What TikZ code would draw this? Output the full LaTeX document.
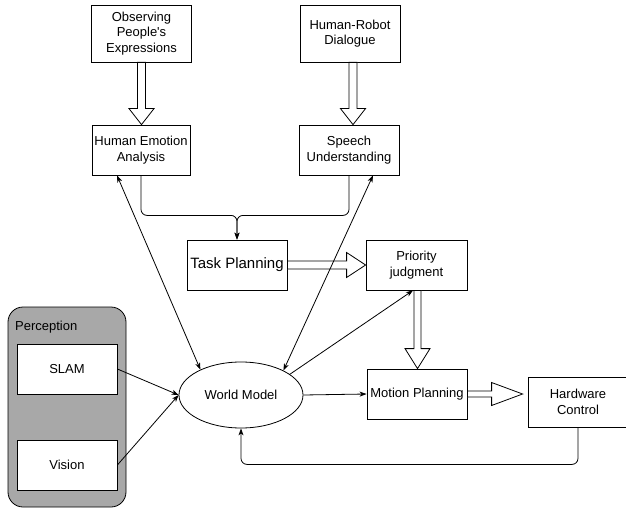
\documentclass[tikz,border=0pt]{standalone}
\usepackage{fontspec}
\setmainfont{Liberation Sans}
\usetikzlibrary{arrows.meta,shapes.geometric,calc}
\definecolor{percgray}{RGB}{168,168,168}
\tikzset{
  box/.style={draw=black, fill=white, line width=0.8pt, minimum width=100pt, minimum height=50pt, inner sep=0pt, align=center, font=\fontsize{13}{15.5}\selectfont},
  hollow/.style={draw=black, fill=white, line width=0.8pt, line join=miter},
  conn/.style={draw=black, line width=0.8pt, -{Stealth[length=7pt,width=5pt,inset=2pt]}},
  biconn/.style={draw=black, line width=0.8pt, {Stealth[length=7pt,width=5pt,inset=2pt]}-{Stealth[length=7pt,width=5pt,inset=2pt]}},
  flow/.style={conn, rounded corners=6pt},
}
\newcommand\hollowdown[5]{%
  \draw[hollow] let \p1=(#1), \p2=(#2) in
    (\x1-#3,\y1) -- (\x1-#3,\y2+#5) -- (\x1-#4,\y2+#5) -- (\x1,\y2) --
    (\x1+#4,\y2+#5) -- (\x1+#3,\y2+#5) -- (\x1+#3,\y1) -- cycle;}
\newcommand\hollowright[5]{%
  \draw[hollow] let \p1=(#1), \p2=(#2) in
    (\x1,\y1-#3) -- (\x2-#5,\y1-#3) -- (\x2-#5,\y1-#4) -- (\x2,\y1) --
    (\x2-#5,\y1+#4) -- (\x2-#5,\y1+#3) -- (\x1,\y1+#3) -- cycle;}
\begin{document}
\begin{tikzpicture}[x=1pt,y=-1pt]
\useasboundingbox (0,0) rectangle (626,508);
% perception container
\node[draw=black, fill=percgray, line width=0.8pt, rounded corners=15pt, minimum width=118pt, minimum height=200pt, inner sep=0pt] (perc) at (67,407) {};
\node[anchor=west, inner sep=0pt, font=\fontsize{13}{15.5}\selectfont] (perclabel) at (15,327) {Perception};
\node[box] (slam) at (67,369) {SLAM};
\node[box] (vision) at (67,465) {Vision};
% boxes
\node[box, minimum height=57pt] (obs) at (141.5,33.5) {Observing\\People\textquotesingle s\\Expressions};
\node[box, minimum height=57pt] (hr) at (350,33.5) {Human-Robot\\Dialogue};
\node[box, minimum width=98pt] (hea) at (141,150) {Human Emotion\\Analysis};
\node[box] (su) at (349,150) {Speech\\Understanding};
\node[box, font=\fontsize{15}{18}\selectfont] (tp) at (237,265) {Task Planning};
\node[box, minimum width=101pt] (pj) at (416.5,265) {Priority\\judgment};
\node[box] (mp) at (417,394) {Motion Planning};
\node[box] (hw) at (578,402) {Hardware\\Control};
\node[draw=black, fill=white, line width=0.8pt, ellipse, minimum width=124pt, minimum height=66pt, inner sep=0pt, font=\fontsize{13}{15.5}\selectfont] (wm) at (241,395) {World Model};
% hollow arrows
\hollowdown{obs.south}{hea.north}{4pt}{12.5pt}{16pt}
\hollowdown{[xshift=3pt]hr.south}{[xshift=3pt]su.north}{4pt}{12.5pt}{16pt}
\hollowright{tp.east}{pj.west}{4pt}{12.5pt}{19pt}
\hollowdown{[xshift=1pt]pj.south}{[xshift=1pt]mp.north}{3.5pt}{12.5pt}{20pt}
\hollowright{mp.east}{[xshift=-5pt]hw.west}{3pt}{11.5pt}{31pt}
% connectors
\draw[flow] (hea.south) -- ++(0,40) -| (tp.north);
\draw[flow] (su.south) -- ++(0,40) -| (tp.north);
\draw[flow] (hw.south) -- ++(0,37) -| (wm.south);
\draw[conn] (slam.east) -- (wm.west);
\draw[conn] (vision.east) -- (wm.west);
\draw[biconn] ([xshift=-24pt]hea.south) -- (wm.148);
\draw[biconn] ([xshift=24pt]su.south) -- (wm.30);
\draw[conn] (wm.23) -- ([xshift=-3.5pt]pj.south);
\draw[conn] (wm.east) -- (mp.west);
\end{tikzpicture}
\end{document}
